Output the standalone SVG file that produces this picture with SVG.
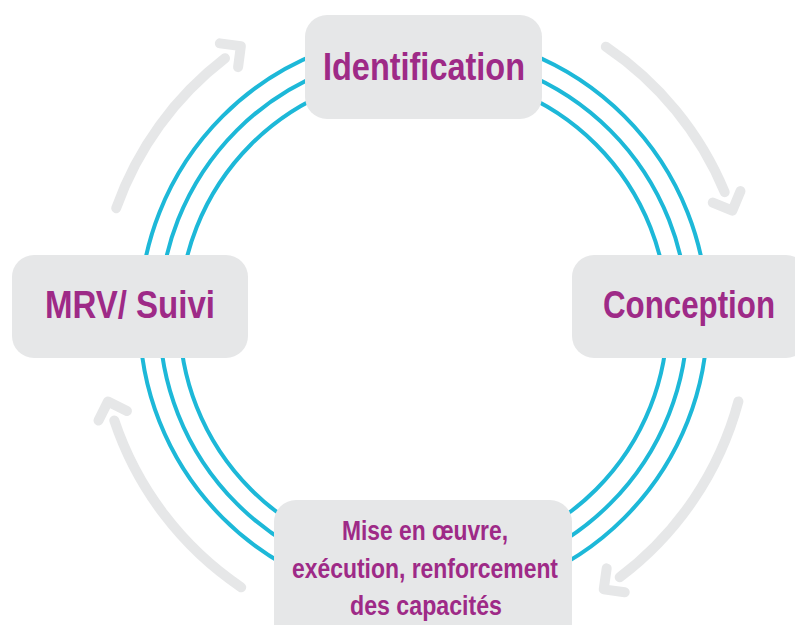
<svg xmlns="http://www.w3.org/2000/svg" width="795" height="625" viewBox="0 0 795 625">
  <style>
    .ring { fill: none; stroke: #1db8d8; stroke-width: 4; }
    .flow { fill: none; stroke: #e6e7e8; stroke-width: 10; stroke-linecap: round; stroke-linejoin: round; }
    .box { fill: #e6e7e8; }
    .lbl { font-family: "Liberation Sans", Arial, sans-serif; font-weight: bold; fill: #9e2a87; text-anchor: middle; }
    .big { font-size: 38px; }
    .small { font-size: 28px; }
  </style>
  <defs>
    <marker id="chev" markerUnits="userSpaceOnUse" orient="auto" overflow="visible" refX="0" refY="0" markerWidth="1" markerHeight="1">
      <path d="M5,-15 L20,0 L5,15" fill="none" stroke="#e6e7e8" stroke-width="10" stroke-linecap="round" stroke-linejoin="round"/>
    </marker>
  </defs>
  <rect width="795" height="625" fill="#ffffff"/>

  <g id="ring">
    <circle class="ring" cx="423.5" cy="317" r="284"/>
    <circle class="ring" cx="423.5" cy="317" r="264"/>
    <circle class="ring" cx="423.5" cy="317" r="244"/>
  </g>

  <g id="connectors">
    <path class="flow" marker-end="url(#chev)" d="M605.8,46.7 A326,326 0 0 1 724.7,192.2"/>
    <path class="flow" marker-end="url(#chev)" d="M738.4,401.4 A326,326 0 0 1 619.7,577.3"/>
    <path class="flow" marker-end="url(#chev)" d="M241.2,587.3 A326,326 0 0 1 114.3,420.4"/>
    <path class="flow" marker-end="url(#chev)" d="M116.2,208.2 A326,326 0 0 1 225.0,58.3"/>
  </g>

  <g id="identification">
    <rect class="box" x="305" y="15" width="237" height="104" rx="22"/>
    <text class="lbl big" x="424" y="80" textLength="202" lengthAdjust="spacingAndGlyphs">Identification</text>
  </g>

  <g id="conception">
    <rect class="box" x="572" y="255" width="236" height="103" rx="22"/>
    <text class="lbl big" x="689" y="318" textLength="172" lengthAdjust="spacingAndGlyphs">Conception</text>
  </g>

  <g id="mise-en-oeuvre">
    <rect class="box" x="274" y="500" width="298" height="145" rx="22"/>
    <text class="lbl small" x="425" y="540" textLength="166" lengthAdjust="spacingAndGlyphs">Mise en œuvre,</text>
    <text class="lbl small" x="425" y="578" textLength="266" lengthAdjust="spacingAndGlyphs">exécution, renforcement</text>
    <text class="lbl small" x="426" y="615" textLength="152" lengthAdjust="spacingAndGlyphs">des capacités</text>
  </g>

  <g id="mrv-suivi">
    <rect class="box" x="12" y="255" width="236" height="103" rx="22"/>
    <text class="lbl big" x="130" y="318" textLength="170" lengthAdjust="spacingAndGlyphs">MRV/ Suivi</text>
  </g>
</svg>
